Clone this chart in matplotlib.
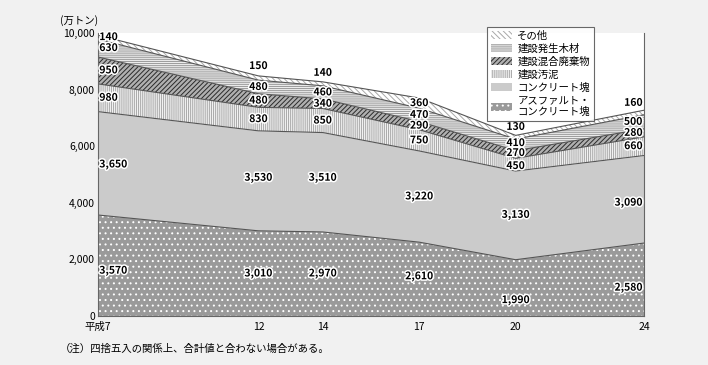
import numpy as np
import matplotlib
matplotlib.use("Agg")
import matplotlib.pyplot as plt
import matplotlib.patheffects as pe
from matplotlib.patches import Patch

plt.rcParams['font.family'] = ['Noto Sans CJK JP', 'DejaVu Sans']
plt.rcParams['hatch.linewidth'] = 0.7

# data (万トン)
years = [7, 12, 14, 17, 20, 24]
year_labels = ['平成7', '12', '14', '17', '20', '24']
asphalt = [3570, 3010, 2970, 2610, 1990, 2580]
concrete = [3650, 3530, 3510, 3220, 3130, 3090]
sludge = [980, 830, 850, 750, 450, 660]
mixed = [950, 480, 340, 290, 270, 280]
wood = [630, 480, 460, 470, 410, 500]
other = [140, 150, 140, 360, 130, 160]
names = ['アスファルト・\nコンクリート塊', 'コンクリート塊', '建設汚泥',
         '建設混合廃棄物', '建設発生木材', 'その他']

series = [asphalt, concrete, sludge, mixed, wood, other]
# (facecolor, hatch color, hatch)
styles = [('#9a9a9a', 'white', '...'),
          ('#cbcbcb', '#cbcbcb', None),
          ('#f2f2f2', '#a8a8a8', '||||||||'),
          ('#b0b0b0', '#2a2a2a', '///////'),
          ('#ececec', '#9a9a9a', '--------'),
          ('white', '#a8a8a8', '\\\\\\\\\\\\')]

fig = plt.figure(figsize=(7.08, 3.65), dpi=100, facecolor='#f1f1f1')
ax = fig.add_axes([0.138, 0.134, 0.772, 0.776])
ax.set_facecolor('white')

x = np.array(years)
bottom = np.zeros(len(years))
tops = []
for vals, (fc, hc, h) in zip(series, styles):
    top = bottom + np.array(vals)
    ax.fill_between(x, bottom, top, facecolor=fc, edgecolor=hc, hatch=h, linewidth=0)
    ax.plot(x, top, color='#555555', lw=0.8)
    tops.append((bottom.copy(), top.copy()))
    bottom = top

# labels
stroke = [pe.withStroke(linewidth=2.2, foreground='white')]
override = {(0, 0): 1600, (0, 4): 560, (0, 5): 1000, (0, 1): 1500, (0, 2): 1500, (0, 3): 1400,
            (1, 0): 5350, (1, 1): 4880, (1, 2): 4880, (1, 4): 3570, (1, 5): 4000,
            (5, 1): 8830, (5, 2): 8590, (5, 4): 6680, (5, 5): 7530,
            (2, 4): 5300, (3, 4): 5760, (4, 4): 6110}
for si, vals in enumerate(series):
    lo, hi = tops[si]
    for j, v in enumerate(vals):
        y = override.get((si, j), (lo[j] + hi[j]) / 2)
        ha = 'center'
        xx = years[j]
        if j == 0:
            ha = 'left'
            xx = years[j] + 0.05
        elif j == len(years) - 1:
            ha = 'right'
            xx = years[j] - 0.05
        ax.text(xx, y, f'{v:,}', ha=ha, va='center', fontsize=7.5,
                fontweight='bold', color='black', path_effects=stroke)

ax.set_xlim(7, 24)
ax.set_ylim(0, 10000)
ax.set_xticks(years)
ax.set_xticklabels(year_labels)
ax.set_yticks(range(0, 10001, 2000))
ax.set_yticklabels([f'{v:,}' for v in range(0, 10001, 2000)])
ax.tick_params(length=0, labelsize=7.5, pad=2)
ax.tick_params(axis='x', pad=4)
for s in ['left', 'bottom', 'right']:
    ax.spines[s].set_color('#666666')
    ax.spines[s].set_linewidth(0.8)
ax.spines['top'].set_visible(False)

handles = [Patch(facecolor=fc, edgecolor=hc, hatch=h, linewidth=0) for fc, hc, h in styles]
leg = ax.legend(handles[::-1], names[::-1], loc='upper left', bbox_to_anchor=(0.703, 1.04),
                fontsize=7.5, frameon=True, fancybox=False, edgecolor='#444444',
                handlelength=2.0, handleheight=0.8, labelspacing=0.25,
                borderpad=0.4, handletextpad=0.5)
leg.get_frame().set_linewidth(0.8)
leg.set_zorder(5)

fig.text(0.085, 0.935, '(万トン)', fontsize=7.5)
fig.text(0.085, 0.035, '（注）四捨五入の関係上、合計値と合わない場合がある。', fontsize=7.5)

fig.savefig('out.png', dpi=100, facecolor=fig.get_facecolor())
